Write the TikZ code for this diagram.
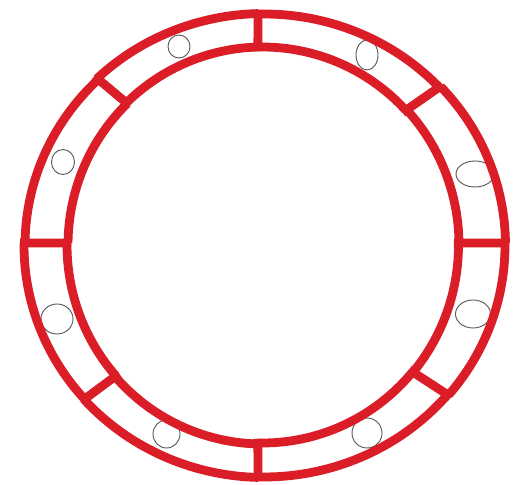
\documentclass[tikz,border=0pt]{standalone}
\usetikzlibrary{calc}
\definecolor{ringred}{RGB}{218,29,38}
\definecolor{holegray}{RGB}{85,85,85}
\tikzset{
  ringline/.style={draw=ringred, line width=8.8pt, line cap=butt},
  barline/.style={draw=ringred, line width=8.8pt, line cap=butt},
  hole/.style={draw=holegray, line width=0.9pt}
}
\begin{document}
\begin{tikzpicture}[x=1pt,y=1pt]
\useasboundingbox (0,0) rectangle (513,484);
\fill[white] (0,0) rectangle (513,484);
\coordinate (co) at (264,238.5);
\coordinate (ci) at (262.5,239);
% small holes (drawn under the ring)
\draw[hole] (179,437.5) ellipse [x radius=11, y radius=11.5];
\draw[hole] (367,429) ellipse [x radius=11, y radius=15];
\draw[hole] (63,322) ellipse [x radius=11.5, y radius=12.5];
\draw[hole] (475,310) ellipse [x radius=19, y radius=13];
\draw[hole] (57,165) ellipse [x radius=16, y radius=15];
\draw[hole] (473,170) ellipse [x radius=17.5, y radius=14];
\draw[hole] (166.5,50) ellipse [x radius=13.5, y radius=14];
\draw[hole] (367,51) ellipse [x radius=15, y radius=15];
% ring segments between the bars
\foreach \a/\b/\offo/\offi in {0.6/43/1.5/1, 43/91.4/0/0, 91.4/134/0.5/0, 134/179.4/-1/-1, 179.4/221.5/0/0, 221.5/268.6/0.5/1, 268.6/320/0/0, 320/360.6/1/0.5}{
  \pgfmathsetmacro{\rxo}{240+\offo}
  \pgfmathsetmacro{\ryo}{231.5+\offo}
  \pgfmathsetmacro{\rxi}{195.5+\offi}
  \pgfmathsetmacro{\ryi}{198+\offi}
  \draw[ringline] ($(co)+(\a:\rxo pt and \ryo pt)$) arc[start angle=\a, end angle=\b, x radius=\rxo pt, y radius=\ryo pt];
  \draw[ringline] ($(ci)+(\a:\rxi pt and \ryi pt)$) arc[start angle=\a, end angle=\b, x radius=\rxi pt, y radius=\ryi pt];
}
% radial bars
\foreach \t in {0.6,43,91.4,134,179.4,221.5,268.6,320}{
  \draw[barline] ($(co)+(\t:244pt and 235.5pt)$) -- ($(ci)+(\t:191.5pt and 194pt)$);
}
\end{tikzpicture}
\end{document}
